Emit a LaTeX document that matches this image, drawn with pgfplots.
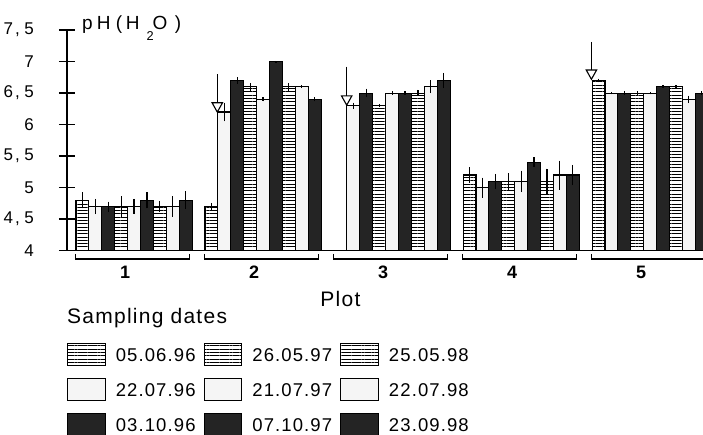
\documentclass[border=0pt]{standalone}
\usepackage{fontspec}
\setmainfont{Liberation Sans}[LetterSpace=6]
\usepackage{pgfplots}
\pgfplotsset{compat=1.18}
\usetikzlibrary{patterns.meta,arrows.meta}
\definecolor{barblack}{HTML}{242424}
\definecolor{stipple}{HTML}{F5F5F5}
\pgfplotsset{
  mylegend/.style={legend image code/.code={\draw[##1] (0pt,-10pt) rectangle (37.7pt,12.3pt);}},
  basebar/.style={ybar, bar width=1, bar shift=0pt, draw=black, line width=1.1pt, mylegend},
  hatch/.style={basebar, fill=white, postaction={pattern={Lines[angle=0,distance=3.3pt,line width=0.8pt]}}},
  whitebar/.style={basebar, fill=stipple},
  blackbar/.style={basebar, fill=barblack},
  deco/.style={forget plot, error bars/y dir=none, black, line width=1.3pt},
  arr/.style={deco, line width=1.2pt, -{Triangle[open, width=12pt, length=11pt, line width=1.1pt]}},
}
\begin{document}
\begin{tikzpicture}
\useasboundingbox (-67pt,-184.3pt) rectangle (636pt,250.7pt);
\begin{axis}[
  at={(0pt,0pt)}, anchor=south west,
  scale only axis, width=636pt, height=220.7pt,
  xmin=-1.2, xmax=48.1, ymin=4, ymax=7.5,
  clip=false,
  axis x line*=bottom, axis y line*=left,
  axis line style={line width=1.6pt},
  ytick={4,4.5,5,5.5,6,6.5,7,7.5},
  yticklabels={4,{4\hspace{2pt},\hspace{4.5pt}5},5,{5\hspace{2pt},\hspace{4.5pt}5},6,{6\hspace{2pt},\hspace{4.5pt}5},7,{7\hspace{2pt},\hspace{4.5pt}5}},
  xtick={3.3,13.3,23.3,33.3,43.3},
  xticklabels={1,2,3,4,5},
  tick align=center, major tick length=16pt,
  ytick style={line width=1.6pt, black},
  xtick style={draw=none},
  yticklabel style={font=\fontsize{17}{18}\selectfont, inner sep=0pt, anchor=east, xshift=-25pt},
  xticklabel style={font=\fontsize{18}{20}\selectfont\bfseries, inner sep=0pt, anchor=north, yshift=-7pt},
  error bars/y dir=both, error bars/y explicit, error bars/error mark=none,
  error bars/error bar style={line width=1.2pt, black},
  legend columns=3,
  legend style={draw=none, fill=none, at={(0,-0.417)}, anchor=north west,
    font=\fontsize{18.5}{20}\selectfont, inner sep=0pt, outer sep=0pt,
    nodes={inner sep=0pt}, row sep=11.5pt,
    /tikz/every odd column/.append style={column sep=10pt},
    /tikz/every even column/.append style={column sep=8pt}},
]
% hatched: 05.06.96, 26.05.97, 25.05.98
\addplot[hatch] coordinates {(0,4.8) +- (0,0.13) (10,4.7) +- (0,0.06) (30,5.2) +- (0,0.12) (40,6.7) +- (0,0.03)};
\addlegendentry{05.06.96}
\addplot[hatch] coordinates {(3,4.7) +- (0,0.16) (13,6.6) +- (0,0.06) (23,6.3) +- (0,0.02) (33,5.1) +- (0,0.13) (43,6.5) +- (0,0.03)};
\addlegendentry{26.05.97}
\addplot[hatch] coordinates {(6,4.7) +- (0,0.09) (16,6.6) +- (0,0.06) (26,6.5) +- (0,0.05) (36,5.1) +- (0,0.2) (46,6.6) +- (0,0.03)};
\addlegendentry{25.05.98}
% white: 22.07.96, 21.07.97, 22.07.98
\addplot[whitebar] coordinates {(1,4.7) +- (0,0.12) (11,6.2) +- (0,0.15) (21,6.3) +- (0,0.05) (31,5.0) +- (0,0.16) (41,6.5) +- (0,0.02)};
\addlegendentry{22.07.96}
\addplot[whitebar] coordinates {(4,4.7) +- (0,0.12) (14,6.4) +- (0,0.03) (24,6.5) +- (0,0.03) (34,5.1) +- (0,0.17) (44,6.5) +- (0,0.02)};
\addlegendentry{21.07.97}
\addplot[whitebar] coordinates {(7,4.7) +- (0,0.16) (17,6.6) +- (0,0.02) (27,6.6) +- (0,0.1) (37,5.2) +- (0,0.23) (47,6.4) +- (0,0.06)};
\addlegendentry{22.07.98}
% black: 03.10.96, 07.10.97, 23.09.98
\addplot[blackbar] coordinates {(2,4.7) +- (0,0.08) (12,6.7) +- (0,0.05) (22,6.5) +- (0,0.07) (32,5.1) +- (0,0.12) (42,6.5) +- (0,0.03)};
\addlegendentry{03.10.96}
\addplot[blackbar] coordinates {(5,4.8) +- (0,0.13) (15,7.0) +- (0,0.01) (25,6.5) +- (0,0.03) (35,5.4) +- (0,0.08) (45,6.6) +- (0,0.02)};
\addlegendentry{07.10.97}
\addplot[blackbar] coordinates {(8,4.8) +- (0,0.14) (18,6.4) +- (0,0.03) (28,6.7) +- (0,0.12) (38,5.2) +- (0,0.16) (48,6.5) +- (0,0.03)};
\addlegendentry{23.09.98}
% arrows
\addplot[arr] coordinates {(10.45,6.80) (10.45,6.18)};
\addplot[arr] coordinates {(20.48,6.92) (20.48,6.29)};
\addplot[arr] coordinates {(39.45,7.31) (39.45,6.70)};
% brackets
\addplot[deco] coordinates {(-0.55,3.95) (-0.55,3.868) (8.3,3.868) (8.3,3.95)};
\addplot[deco] coordinates {(9.45,3.95) (9.45,3.868) (18.3,3.868) (18.3,3.95)};
\addplot[deco] coordinates {(19.45,3.95) (19.45,3.868) (28.3,3.868) (28.3,3.95)};
\addplot[deco] coordinates {(29.45,3.95) (29.45,3.868) (38.3,3.868) (38.3,3.95)};
\addplot[deco] coordinates {(39.45,3.95) (39.45,3.868) (48.3,3.868) (48.3,3.95)};
% texts
\node[anchor=base west, inner sep=0pt, xshift=15pt, font=\fontsize{19}{20}\selectfont] at (rel axis cs:0,1) {p\hspace{4pt}H\hspace{5.5pt}(\hspace{3.5pt}H\hspace{7pt}\raisebox{-10.5pt}{\fontsize{12.8}{13}\selectfont 2}\hspace{-1pt}O\hspace{7.5pt})};
\node[anchor=base, inner sep=0pt, yshift=-56pt, font=\fontsize{21}{22}\selectfont] at (rel axis cs:0.43,0) {Plot};
\node[anchor=base west, inner sep=0pt, yshift=-72.6pt, font=\fontsize{21}{22}\selectfont] at (rel axis cs:0,0) {Sampling dates};
\end{axis}
\end{tikzpicture}
\end{document}
